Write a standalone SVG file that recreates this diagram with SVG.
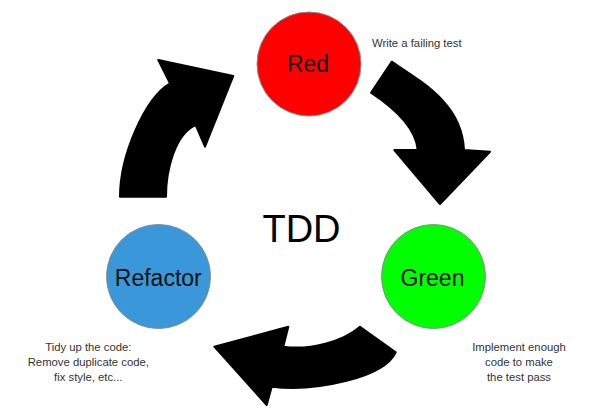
<svg xmlns="http://www.w3.org/2000/svg" width="595" height="419" viewBox="0 0 595 419">
<style>
.node circle{stroke:#8a8a8a;stroke-width:1}
.lbl{font-family:"Liberation Sans",Arial,sans-serif;font-size:23px;fill:#111;text-anchor:middle}
.note{font-family:"Liberation Sans",Arial,sans-serif;font-size:11.3px;fill:#333}
.arrow{fill:#000;stroke:#000;stroke-width:2;stroke-linejoin:round}
</style>
<rect width="595" height="419" fill="#fff"/>
<g id="connectors">
<path class="arrow" d="M391.7 61.7 C424.9 83.7 462 105 464 150 L490 151.7 L440 204 L394.3 150 L417.7 150 C415.7 125 387.6 103.7 371 92.7 Z"/>
<path class="arrow" d="M120 196.7 C120 155 145 98 170 83.3 L158.3 60 L233.3 76 L205 146.7 L195.7 125 C175 134 166 170 166 196.7 Z"/>
<path class="arrow" d="M360 326.7 L395.7 352.3 C384 378 315 392 271.7 386.7 L266.7 405 L214.3 346.7 L288.3 326.7 L283.3 346.7 C310 350.5 343 341.5 360 326.7 Z"/>
</g>
<g id="red" class="node">
<circle cx="309" cy="64" r="52" fill="#ff0000"/>
<text class="lbl" x="308" y="72">Red</text>
</g>
<g id="green" class="node">
<circle cx="433.5" cy="276.5" r="52" fill="#00ff00"/>
<text class="lbl" x="432.5" y="286">Green</text>
</g>
<g id="refactor" class="node">
<circle cx="158.5" cy="276.5" r="52" fill="#3a98da"/>
<text class="lbl" x="158.3" y="286">Refactor</text>
</g>
<g id="tdd">
<text x="301.5" y="241.5" font-family="'Liberation Sans',Arial,sans-serif" font-size="38" fill="#000" text-anchor="middle">TDD</text>
</g>
<g id="note-red">
<text class="note" x="372" y="47">Write a failing test</text>
</g>
<g id="note-green" text-anchor="middle">
<text class="note" x="519" y="351" text-anchor="middle">Implement enough</text>
<text class="note" x="519" y="366" text-anchor="middle">code to make</text>
<text class="note" x="519" y="381" text-anchor="middle">the test pass</text>
</g>
<g id="note-refactor">
<text class="note" x="88.3" y="351" text-anchor="middle">Tidy up the code:</text>
<text class="note" x="88.3" y="366" text-anchor="middle">Remove duplicate code,</text>
<text class="note" x="88.3" y="381" text-anchor="middle">fix style, etc...</text>
</g>
</svg>
